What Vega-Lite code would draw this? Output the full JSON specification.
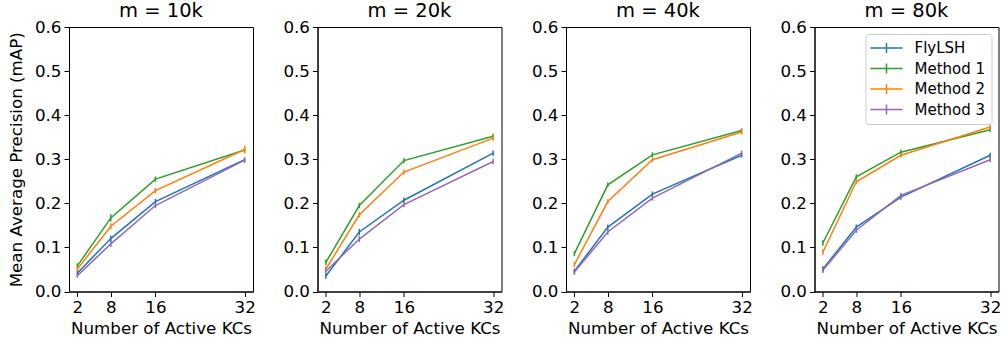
{
  "$schema": "https://vega.github.io/schema/vega-lite/v6.json",
  "background": "white",
  "padding": {"left": 7, "top": 0, "right": 3, "bottom": 2},
  "bounds": "flush",
  "spacing": 64.5,
  "datasets": {
    "pts": [
      {"m": "10k", "k": 2, "method": "FlyLSH", "map": 0.042, "lo": 0.037, "hi": 0.047},
      {"m": "10k", "k": 8, "method": "FlyLSH", "map": 0.120, "lo": 0.113, "hi": 0.127},
      {"m": "10k", "k": 16, "method": "FlyLSH", "map": 0.204, "lo": 0.198, "hi": 0.210},
      {"m": "10k", "k": 32, "method": "FlyLSH", "map": 0.299, "lo": 0.294, "hi": 0.304},
      {"m": "10k", "k": 2, "method": "Method 1", "map": 0.058, "lo": 0.052, "hi": 0.064},
      {"m": "10k", "k": 8, "method": "Method 1", "map": 0.167, "lo": 0.159, "hi": 0.175},
      {"m": "10k", "k": 16, "method": "Method 1", "map": 0.255, "lo": 0.249, "hi": 0.261},
      {"m": "10k", "k": 32, "method": "Method 1", "map": 0.321, "lo": 0.315, "hi": 0.327},
      {"m": "10k", "k": 2, "method": "Method 2", "map": 0.051, "lo": 0.046, "hi": 0.056},
      {"m": "10k", "k": 8, "method": "Method 2", "map": 0.148, "lo": 0.141, "hi": 0.155},
      {"m": "10k", "k": 16, "method": "Method 2", "map": 0.229, "lo": 0.223, "hi": 0.235},
      {"m": "10k", "k": 32, "method": "Method 2", "map": 0.322, "lo": 0.313, "hi": 0.331},
      {"m": "10k", "k": 2, "method": "Method 3", "map": 0.036, "lo": 0.031, "hi": 0.041},
      {"m": "10k", "k": 8, "method": "Method 3", "map": 0.108, "lo": 0.101, "hi": 0.115},
      {"m": "10k", "k": 16, "method": "Method 3", "map": 0.195, "lo": 0.189, "hi": 0.201},
      {"m": "10k", "k": 32, "method": "Method 3", "map": 0.298, "lo": 0.292, "hi": 0.304},

      {"m": "20k", "k": 2, "method": "FlyLSH", "map": 0.035, "lo": 0.029, "hi": 0.041},
      {"m": "20k", "k": 8, "method": "FlyLSH", "map": 0.135, "lo": 0.128, "hi": 0.142},
      {"m": "20k", "k": 16, "method": "FlyLSH", "map": 0.207, "lo": 0.201, "hi": 0.213},
      {"m": "20k", "k": 32, "method": "FlyLSH", "map": 0.314, "lo": 0.308, "hi": 0.320},
      {"m": "20k", "k": 2, "method": "Method 1", "map": 0.066, "lo": 0.060, "hi": 0.072},
      {"m": "20k", "k": 8, "method": "Method 1", "map": 0.195, "lo": 0.189, "hi": 0.201},
      {"m": "20k", "k": 16, "method": "Method 1", "map": 0.297, "lo": 0.291, "hi": 0.303},
      {"m": "20k", "k": 32, "method": "Method 1", "map": 0.352, "lo": 0.346, "hi": 0.358},
      {"m": "20k", "k": 2, "method": "Method 2", "map": 0.051, "lo": 0.045, "hi": 0.057},
      {"m": "20k", "k": 8, "method": "Method 2", "map": 0.174, "lo": 0.168, "hi": 0.180},
      {"m": "20k", "k": 16, "method": "Method 2", "map": 0.271, "lo": 0.265, "hi": 0.277},
      {"m": "20k", "k": 32, "method": "Method 2", "map": 0.348, "lo": 0.342, "hi": 0.354},
      {"m": "20k", "k": 2, "method": "Method 3", "map": 0.046, "lo": 0.040, "hi": 0.052},
      {"m": "20k", "k": 8, "method": "Method 3", "map": 0.119, "lo": 0.112, "hi": 0.126},
      {"m": "20k", "k": 16, "method": "Method 3", "map": 0.197, "lo": 0.191, "hi": 0.203},
      {"m": "20k", "k": 32, "method": "Method 3", "map": 0.295, "lo": 0.289, "hi": 0.301},

      {"m": "40k", "k": 2, "method": "FlyLSH", "map": 0.046, "lo": 0.040, "hi": 0.052},
      {"m": "40k", "k": 8, "method": "FlyLSH", "map": 0.146, "lo": 0.140, "hi": 0.152},
      {"m": "40k", "k": 16, "method": "FlyLSH", "map": 0.221, "lo": 0.215, "hi": 0.227},
      {"m": "40k", "k": 32, "method": "FlyLSH", "map": 0.309, "lo": 0.304, "hi": 0.314},
      {"m": "40k", "k": 2, "method": "Method 1", "map": 0.086, "lo": 0.080, "hi": 0.092},
      {"m": "40k", "k": 8, "method": "Method 1", "map": 0.242, "lo": 0.237, "hi": 0.247},
      {"m": "40k", "k": 16, "method": "Method 1", "map": 0.310, "lo": 0.304, "hi": 0.316},
      {"m": "40k", "k": 32, "method": "Method 1", "map": 0.365, "lo": 0.360, "hi": 0.370},
      {"m": "40k", "k": 2, "method": "Method 2", "map": 0.061, "lo": 0.055, "hi": 0.067},
      {"m": "40k", "k": 8, "method": "Method 2", "map": 0.204, "lo": 0.199, "hi": 0.209},
      {"m": "40k", "k": 16, "method": "Method 2", "map": 0.299, "lo": 0.294, "hi": 0.304},
      {"m": "40k", "k": 32, "method": "Method 2", "map": 0.362, "lo": 0.356, "hi": 0.368},
      {"m": "40k", "k": 2, "method": "Method 3", "map": 0.044, "lo": 0.038, "hi": 0.050},
      {"m": "40k", "k": 8, "method": "Method 3", "map": 0.135, "lo": 0.129, "hi": 0.141},
      {"m": "40k", "k": 16, "method": "Method 3", "map": 0.212, "lo": 0.206, "hi": 0.218},
      {"m": "40k", "k": 32, "method": "Method 3", "map": 0.314, "lo": 0.308, "hi": 0.320},

      {"m": "80k", "k": 2, "method": "FlyLSH", "map": 0.051, "lo": 0.045, "hi": 0.057},
      {"m": "80k", "k": 8, "method": "FlyLSH", "map": 0.146, "lo": 0.140, "hi": 0.152},
      {"m": "80k", "k": 16, "method": "FlyLSH", "map": 0.214, "lo": 0.208, "hi": 0.220},
      {"m": "80k", "k": 32, "method": "FlyLSH", "map": 0.309, "lo": 0.303, "hi": 0.315},
      {"m": "80k", "k": 2, "method": "Method 1", "map": 0.110, "lo": 0.104, "hi": 0.116},
      {"m": "80k", "k": 8, "method": "Method 1", "map": 0.260, "lo": 0.254, "hi": 0.266},
      {"m": "80k", "k": 16, "method": "Method 1", "map": 0.316, "lo": 0.310, "hi": 0.322},
      {"m": "80k", "k": 32, "method": "Method 1", "map": 0.367, "lo": 0.362, "hi": 0.372},
      {"m": "80k", "k": 2, "method": "Method 2", "map": 0.089, "lo": 0.083, "hi": 0.095},
      {"m": "80k", "k": 8, "method": "Method 2", "map": 0.249, "lo": 0.244, "hi": 0.254},
      {"m": "80k", "k": 16, "method": "Method 2", "map": 0.309, "lo": 0.304, "hi": 0.314},
      {"m": "80k", "k": 32, "method": "Method 2", "map": 0.373, "lo": 0.367, "hi": 0.379},
      {"m": "80k", "k": 2, "method": "Method 3", "map": 0.048, "lo": 0.042, "hi": 0.054},
      {"m": "80k", "k": 8, "method": "Method 3", "map": 0.139, "lo": 0.133, "hi": 0.145},
      {"m": "80k", "k": 16, "method": "Method 3", "map": 0.218, "lo": 0.212, "hi": 0.224},
      {"m": "80k", "k": 32, "method": "Method 3", "map": 0.299, "lo": 0.293, "hi": 0.305}
    ]
  },
  "data": {"name": "pts"},
  "resolve": {"legend": {"color": "independent"}},
  "hconcat": [
    {
      "width": 184, "height": 264.5,
      "title": "m = 10k",
      "transform": [{"filter": "datum.m == '10k'"}],
      "encoding": {
        "x": {"field": "k", "type": "quantitative", "title": "Number of Active KCs",
              "scale": {"domain": [0.5, 33.5], "nice": false, "zero": false},
              "axis": {"values": [2, 8, 16, 32]}},
        "color": {"field": "method", "type": "nominal", "legend": null,
                  "scale": {"domain": ["FlyLSH", "Method 1", "Method 2", "Method 3"], "range": ["#1f77b4", "#2ca02c", "#ff7f0e", "#9467bd"]}}
      },
      "layer": [
        {"mark": {"type": "line", "strokeWidth": 1.5},
         "encoding": {"y": {"field": "map", "type": "quantitative", "title": "Mean Average Precision (mAP)",
                            "scale": {"domain": [0, 0.6], "nice": false},
                            "axis": {"values": [0, 0.1, 0.2, 0.3, 0.4, 0.5, 0.6], "format": ".1f"}}}},
        {"mark": {"type": "rule", "strokeWidth": 1.5},
         "encoding": {"y": {"field": "lo", "type": "quantitative"}, "y2": {"field": "hi"}}}
      ]
    },
    {
      "width": 184, "height": 264.5,
      "title": "m = 20k",
      "transform": [{"filter": "datum.m == '20k'"}],
      "encoding": {
        "x": {"field": "k", "type": "quantitative", "title": "Number of Active KCs",
              "scale": {"domain": [0.5, 33.5], "nice": false, "zero": false},
              "axis": {"values": [2, 8, 16, 32]}},
        "color": {"field": "method", "type": "nominal", "legend": null,
                  "scale": {"domain": ["FlyLSH", "Method 1", "Method 2", "Method 3"], "range": ["#1f77b4", "#2ca02c", "#ff7f0e", "#9467bd"]}}
      },
      "layer": [
        {"mark": {"type": "line", "strokeWidth": 1.5},
         "encoding": {"y": {"field": "map", "type": "quantitative", "title": null,
                            "scale": {"domain": [0, 0.6], "nice": false},
                            "axis": {"values": [0, 0.1, 0.2, 0.3, 0.4, 0.5, 0.6], "format": ".1f"}}}},
        {"mark": {"type": "rule", "strokeWidth": 1.5},
         "encoding": {"y": {"field": "lo", "type": "quantitative"}, "y2": {"field": "hi"}}}
      ]
    },
    {
      "width": 184, "height": 264.5,
      "title": "m = 40k",
      "transform": [{"filter": "datum.m == '40k'"}],
      "encoding": {
        "x": {"field": "k", "type": "quantitative", "title": "Number of Active KCs",
              "scale": {"domain": [0.5, 33.5], "nice": false, "zero": false},
              "axis": {"values": [2, 8, 16, 32]}},
        "color": {"field": "method", "type": "nominal", "legend": null,
                  "scale": {"domain": ["FlyLSH", "Method 1", "Method 2", "Method 3"], "range": ["#1f77b4", "#2ca02c", "#ff7f0e", "#9467bd"]}}
      },
      "layer": [
        {"mark": {"type": "line", "strokeWidth": 1.5},
         "encoding": {"y": {"field": "map", "type": "quantitative", "title": null,
                            "scale": {"domain": [0, 0.6], "nice": false},
                            "axis": {"values": [0, 0.1, 0.2, 0.3, 0.4, 0.5, 0.6], "format": ".1f"}}}},
        {"mark": {"type": "rule", "strokeWidth": 1.5},
         "encoding": {"y": {"field": "lo", "type": "quantitative"}, "y2": {"field": "hi"}}}
      ]
    },
    {
      "width": 184, "height": 264.5,
      "title": "m = 80k",
      "transform": [{"filter": "datum.m == '80k'"}],
      "encoding": {
        "x": {"field": "k", "type": "quantitative", "title": "Number of Active KCs",
              "scale": {"domain": [0.5, 33.5], "nice": false, "zero": false},
              "axis": {"values": [2, 8, 16, 32]}},
        "color": {"field": "method", "type": "nominal",
                  "scale": {"domain": ["FlyLSH", "Method 1", "Method 2", "Method 3"], "range": ["#1f77b4", "#2ca02c", "#ff7f0e", "#9467bd"]},
                  "legend": {"title": null, "orient": "top-right", "offset": 7,
                             "symbolType": "M-2.3,0H2.3M0,-0.7V0.7", "symbolSize": 196,
                             "symbolStrokeWidth": 1.5, "symbolOffset": 7, "symbolFillColor": "transparent",
                             "labelOffset": 20, "labelFont": "DejaVu Sans", "labelFontSize": 15, "labelColor": "#000",
                             "padding": 6, "rowPadding": 4.5,
                             "strokeColor": "#cccccc", "fillColor": "white", "cornerRadius": 3}}
      },
      "layer": [
        {"mark": {"type": "line", "strokeWidth": 1.5},
         "encoding": {"y": {"field": "map", "type": "quantitative", "title": null,
                            "scale": {"domain": [0, 0.6], "nice": false},
                            "axis": {"values": [0, 0.1, 0.2, 0.3, 0.4, 0.5, 0.6], "format": ".1f"}}}},
        {"mark": {"type": "rule", "strokeWidth": 1.5},
         "encoding": {"y": {"field": "lo", "type": "quantitative"}, "y2": {"field": "hi"}}}
      ]
    }
  ],
  "config": {
    "font": "DejaVu Sans",
    "view": {"stroke": "#000", "strokeWidth": 1},
    "axis": {
      "grid": false, "domainColor": "#000", "domainWidth": 1,
      "tickColor": "#000", "tickSize": 5, "tickWidth": 1,
      "labelFont": "DejaVu Sans", "labelFontSize": 16.7, "labelColor": "#000",
      "titleFont": "DejaVu Sans", "titleFontSize": 16.7, "titleFontWeight": "normal", "titleColor": "#000"
    },
    "axisX": {"titlePadding": 5, "labelPadding": 2.5, "labelFlush": false},
    "axisY": {"titlePadding": 9, "labelPadding": 3, "labelFlush": false},
    "title": {"font": "DejaVu Sans", "fontSize": 19.5, "fontWeight": "normal", "color": "#000", "offset": -2, "baseline": "alphabetic"}
  }
}
